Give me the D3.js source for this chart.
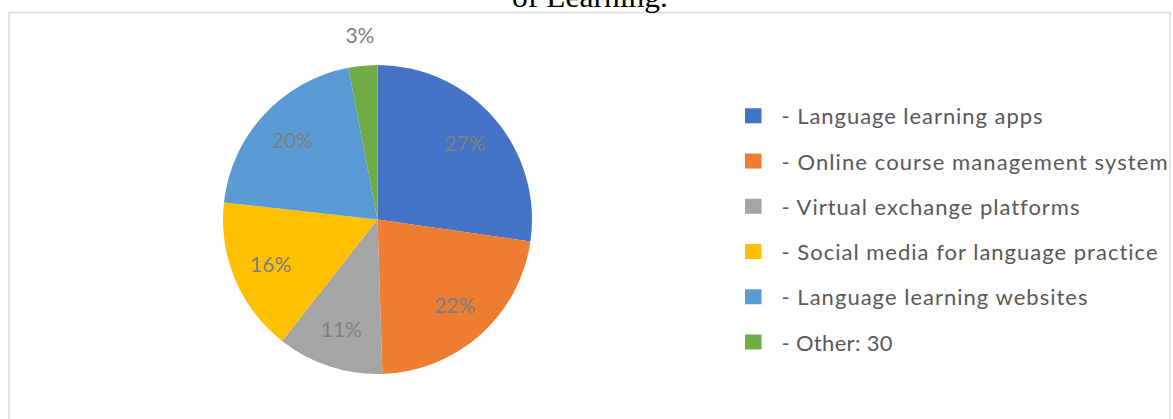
<!DOCTYPE html>
<html>
<head>
<meta charset="utf-8">
<script src="https://cdn.jsdelivr.net/npm/d3@7"></script>
<style>
  html, body { margin: 0; padding: 0; background: #ffffff; }
  svg { display: block; }
  text { font-variant-ligatures: none; }
</style>
</head>
<body>
<svg id="chart" width="1173" height="419"></svg>
<script>
// ---- data ----
const categories = [
  "- Language learning apps",
  "- Online course management system",
  "- Virtual exchange platforms",
  "- Social media for language practice",
  "- Language learning websites",
  "- Other: 30"
];
const percentages = [27, 22, 11, 16, 20, 3];
const sliceColors = ["#4472C4", "#ED7D31", "#A5A5A5", "#FFC000", "#5B9BD5", "#70AD47"];
const titleText = "of Learning.";

// ---- layout ----
const W = 1173, H = 419;
const svg = d3.select("#chart");
const font = "Lato, 'Open Sans', 'DejaVu Sans', sans-serif";

// frame
svg.append("path")
  .attr("d", `M9,${H} L9,12.5 L1170,12.5 L1170,${H}`)
  .attr("fill", "none")
  .attr("stroke", "#e3e3e3")
  .attr("stroke-width", 2);

// title (partly above the top edge, as in the reference)
svg.append("text")
  .attr("x", 512).attr("y", 7)
  .attr("font-family", "'Liberation Serif', 'Times New Roman', serif")
  .attr("font-size", 30)
  .attr("fill", "#000")
  .attr("textLength", 156)
  .attr("lengthAdjust", "spacingAndGlyphs")
  .text(titleText);

// pie
const cx = 377.5, cy = 219.5, R = 154.5;
const data = categories.map((c, i) => ({ name: c, value: percentages[i], color: sliceColors[i] }));
const pie = d3.pie().sort(null).value(d => d.value);
const arcs = pie(data);
const arc = d3.arc().innerRadius(0).outerRadius(R);
const labelArcIn = d3.arc().innerRadius(R * 0.75).outerRadius(R * 0.75);
const labelArcOut = d3.arc().innerRadius(R * 1.2).outerRadius(R * 1.2);

const g = svg.append("g").attr("transform", `translate(${cx},${cy})`);
g.selectAll("path.slice").data(arcs).enter().append("path")
  .attr("class", "slice")
  .attr("d", arc)
  .attr("fill", d => d.data.color);

g.selectAll("text.lbl").data(arcs).enter().append("text")
  .attr("class", "lbl")
  .attr("transform", d => {
    const p = (d.data.value < 5 ? labelArcOut : labelArcIn).centroid(d);
    return `translate(${p[0]},${p[1]})`;
  })
  .attr("text-anchor", "middle")
  .attr("dy", "0.36em")
  .attr("font-family", font)
  .attr("font-size", 21)
  .attr("fill", "#7f7f7f")
  .text(d => d.data.value + "%");

// legend
const ly = d3.scaleLinear().domain([0, categories.length - 1]).range([115.8, 342]);
const legendWidths = [261, 386, 298, 376, 306, 111];
const lg = svg.append("g");
const rows = lg.selectAll("g.row").data(data).enter().append("g")
  .attr("class", "row")
  .attr("transform", (d, i) => `translate(0,${ly(i)})`);
rows.append("rect")
  .attr("x", 745).attr("y", -7.5)
  .attr("width", 16.5).attr("height", 15)
  .attr("fill", d => d.color);
rows.append("text")
  .attr("x", 781.5).attr("y", 8.5)
  .attr("font-family", font)
  .attr("font-size", 22)
  .attr("fill", "#595959")
  .attr("textLength", (d, i) => legendWidths[i])
  .attr("lengthAdjust", "spacing")
  .text(d => d.name);
</script>
</body>
</html>
